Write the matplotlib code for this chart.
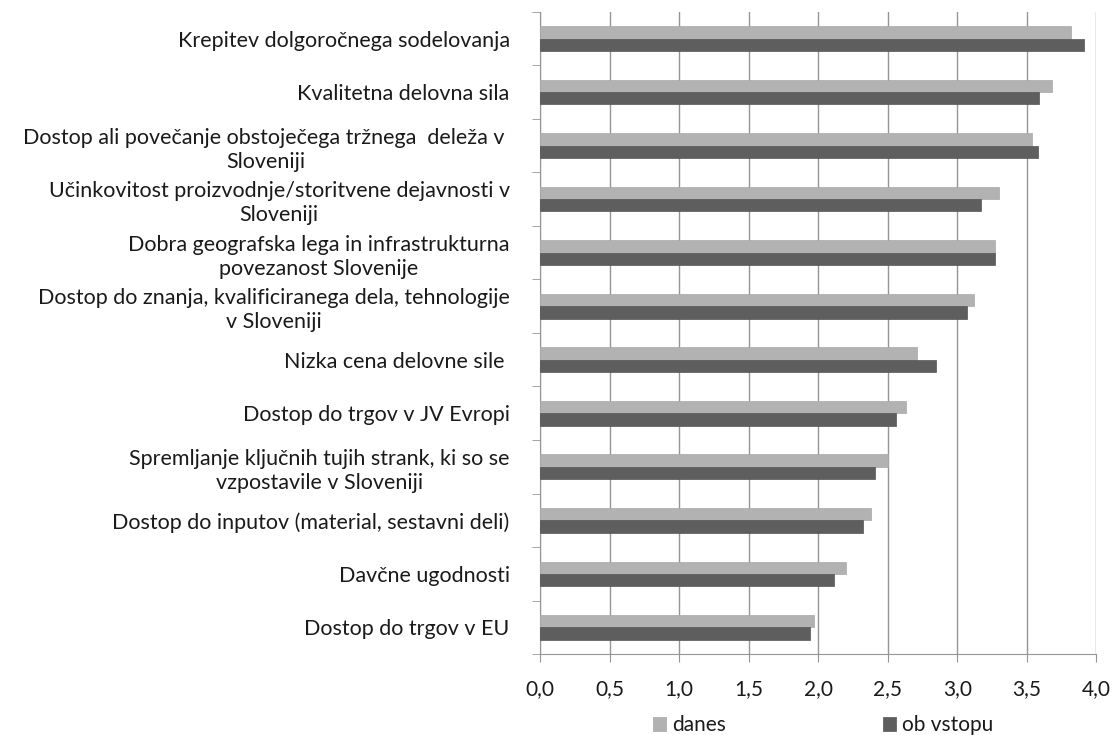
import matplotlib.pyplot as plt
import numpy as np
from matplotlib.ticker import FuncFormatter, FixedLocator

plt.rcParams['font.family'] = ['Lato', 'DejaVu Sans']

categories = [
    'Krepitev dolgoročnega sodelovanja',
    'Kvalitetna delovna sila',
    'Dostop ali povečanje obstoječega tržnega  deleža v \nSloveniji',
    'Učinkovitost proizvodnje/storitvene dejavnosti v\nSloveniji',
    'Dobra geografska lega in infrastrukturna\npovezanost Slovenije',
    'Dostop do znanja, kvalificiranega dela, tehnologije\nv Sloveniji',
    'Nizka cena delovne sile ',
    'Dostop do trgov v JV Evropi',
    'Spremljanje ključnih tujih strank, ki so se\nvzpostavile v Sloveniji',
    'Dostop do inputov (material, sestavni deli)',
    'Davčne ugodnosti',
    'Dostop do trgov v EU',
]
danes = [3.82, 3.68, 3.54, 3.30, 3.27, 3.12, 2.71, 2.63, 2.50, 2.38, 2.20, 1.97]
ob_vstopu = [3.91, 3.59, 3.58, 3.17, 3.27, 3.07, 2.85, 2.56, 2.41, 2.32, 2.11, 1.94]

fig = plt.figure(figsize=(11.14, 7.35), dpi=100)
ax = fig.add_axes([0.485, 0.110, 0.499, 0.874])

n = len(categories)
y = np.arange(n)
h = 0.23
ax.barh(y - h / 2, danes, height=h, color='#b2b2b2', edgecolor='#a8a8a8', linewidth=0.5, label='danes', zorder=3)
ax.barh(y + h / 2, ob_vstopu, height=h, color='#5e5e5e', edgecolor='#555555', linewidth=0.5, label='ob vstopu', zorder=3)

ax.set_ylim(n - 0.5, -0.5)
ax.set_xlim(0, 4.0)
ax.set_xticks(np.arange(0, 4.01, 0.5))
ax.xaxis.set_major_formatter(FuncFormatter(lambda v, p: f'{v:.1f}'.replace('.', ',')))
ax.grid(axis='x', color='#959595', linewidth=1.0, zorder=0)

# category labels centred in each band, tick marks on the band borders
ax.set_yticks(y)
ax.set_yticklabels(categories, fontsize=15.5, color='#1a1a1a', linespacing=1.25)
for t in ax.get_yticklabels():
    t.set_multialignment('center')
ax.tick_params(axis='y', which='major', length=0, pad=22)
ax.yaxis.set_minor_locator(FixedLocator(np.arange(-0.5, n, 1.0)))
ax.tick_params(axis='y', which='minor', length=6, color='#959595')
ax.tick_params(axis='x', length=6, color='#959595', labelsize=15, labelcolor='#1a1a1a', pad=12)

for side in ['top', 'right']:
    ax.spines[side].set_visible(False)
for side in ['left', 'bottom']:
    ax.spines[side].set_color('#959595')

fig.legend(loc='lower center', bbox_to_anchor=(0.739, -0.026), ncol=2, frameon=False,
           fontsize=15, handlelength=0.65, handleheight=0.65, handletextpad=0.3,
           columnspacing=7.5, labelcolor='#1a1a1a')

fig.savefig('out.png', dpi=100)
